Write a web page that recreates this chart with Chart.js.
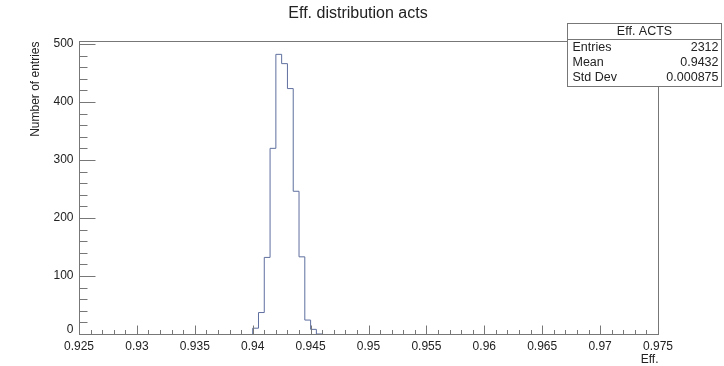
<!DOCTYPE html>
<html>
<head>
<meta charset="utf-8">
<script src="https://cdn.jsdelivr.net/npm/chart.js@4.4.1/dist/chart.umd.min.js"></script>
<style>
  html, body { margin: 0; padding: 0; background: #fff; }
  #wrap { width: 724px; height: 366px; }
</style>
</head>
<body>
<div id="wrap"><canvas id="hist" width="724" height="366"></canvas></div>
<script>
// ---- data ----
const binLow = [0.9400, 0.9405, 0.9410, 0.9415, 0.9420, 0.9425, 0.9430, 0.9435, 0.9440, 0.9445, 0.9450, 0.9455, 0.9460];
const counts = [0, 10, 37, 132, 320, 482, 466, 423, 246, 133, 24, 8, 0];

const xTickLabels = ["0.925", "0.93", "0.935", "0.94", "0.945", "0.95", "0.955", "0.96", "0.965", "0.97", "0.975"];
const yTickLabels = ["0", "100", "200", "300", "400", "500"];
const xMinorStep = 0.001;
const yMinorStep = 20;

const statsRows = [["Entries", "2312"], ["Mean", "0.9432"], ["Std Dev", "0.000875"]];

const FONT = '"Liberation Sans", Arial, Helvetica, sans-serif';
const AXIS = "#777";
const TEXT = "#222";

/* ================= ROOT-STYLE FRAME, TICKS, TEXT ================= */
const rootFrame = {
  id: "rootFrame",
  afterDraw(chart) {
    const { ctx, chartArea: a, scales } = chart;
    const xs = scales.x, ys = scales.y;
    const L = Math.round(a.left) + 0.5, R = Math.round(a.right) + 0.5;
    const T = Math.round(a.top) + 0.5, B = Math.round(a.bottom) + 0.5;

    ctx.save();
    ctx.strokeStyle = AXIS;
    ctx.lineWidth = 1;
    ctx.strokeRect(L, T, R - L, B - T);

    // x ticks (inside, upward)
    ctx.beginPath();
    const nx = Math.round((xs.max - xs.min) / xMinorStep);
    for (let i = 0; i <= nx; i++) {
      const v = xs.min + i * xMinorStep;
      const px = Math.round(xs.getPixelForValue(v)) + 0.5;
      const len = i % 5 === 0 ? 9 : 4.5;
      ctx.moveTo(px, B);
      ctx.lineTo(px, B - len);
    }
    // y ticks (inside, rightward)
    const ny = Math.floor(500 / yMinorStep);
    for (let i = 0; i <= ny; i++) {
      const v = i * yMinorStep;
      const py = Math.round(ys.getPixelForValue(v)) + 0.5;
      const len = i % 5 === 0 ? 16 : 8;
      ctx.moveTo(L, py);
      ctx.lineTo(L + len, py);
    }
    ctx.stroke();

    // tick labels
    ctx.fillStyle = TEXT;
    ctx.font = "12px " + FONT;
    ctx.textAlign = "center";
    ctx.textBaseline = "middle";
    xTickLabels.forEach(t => {
      ctx.fillText(t, xs.getPixelForValue(parseFloat(t)), B + 12);
    });
    ctx.textAlign = "right";
    yTickLabels.forEach(t => {
      ctx.fillText(t, L - 6, ys.getPixelForValue(parseFloat(t)) - (t === "0" ? 4 : 0));
    });

    // axis titles
    ctx.textAlign = "right";
    ctx.fillText("Eff.", R, B + 25);
    ctx.save();
    ctx.translate(36, T);
    ctx.rotate(-Math.PI / 2);
    ctx.textAlign = "right";
    ctx.fillText("Number of entries", 0, 0);
    ctx.restore();

    // title
    ctx.font = "16px " + FONT;
    ctx.textAlign = "center";
    ctx.fillText("Eff. distribution acts", 358, 14);

    // stats box
    const bx = 567.5, by = 23.5, bw = 154, bh = 63;
    ctx.fillStyle = "#fff";
    ctx.fillRect(bx, by, bw, bh);
    ctx.strokeStyle = AXIS;
    ctx.strokeRect(bx, by, bw, bh);
    ctx.beginPath();
    ctx.moveTo(bx, 39.5);
    ctx.lineTo(bx + bw, 39.5);
    ctx.stroke();
    ctx.fillStyle = TEXT;
    ctx.font = "12.5px " + FONT;
    ctx.textAlign = "center";
    ctx.fillText("Eff. ACTS", bx + bw / 2, 32);
    statsRows.forEach((r, i) => {
      const yy = 48 + i * 15;
      ctx.textAlign = "left";
      ctx.fillText(r[0], bx + 5, yy);
      ctx.textAlign = "right";
      ctx.fillText(r[1], bx + bw - 3, yy);
    });
    ctx.restore();
  }
};

new Chart(document.getElementById("hist"), {
  type: "line",
  data: {
    datasets: [{
      data: binLow.map((x, i) => ({ x: x, y: counts[i] })),
      stepped: "after",
      borderColor: "#5f6f9f",
      borderWidth: 1,
      pointRadius: 0,
      fill: false
    }]
  },
  options: {
    responsive: false,
    devicePixelRatio: 1,
    animation: false,
    layout: { padding: { left: 79, right: 66, top: 41, bottom: 32 } },
    scales: {
      x: { type: "linear", min: 0.925, max: 0.975, display: false },
      y: { type: "linear", min: 0, max: 505, display: false }
    },
    plugins: { legend: { display: false }, tooltip: { enabled: false } }
  },
  plugins: [rootFrame]
});
</script>
</body>
</html>
